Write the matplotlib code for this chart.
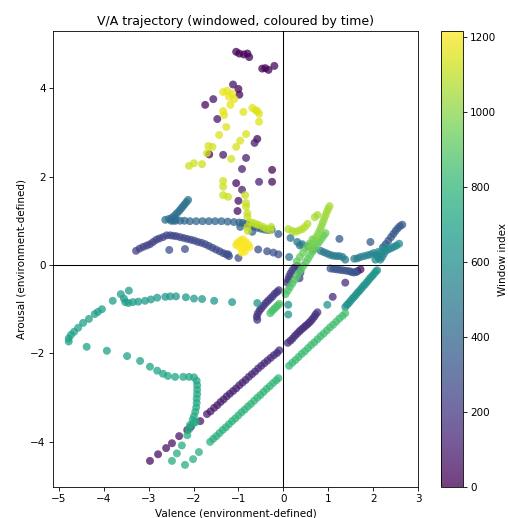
import matplotlib
matplotlib.use("Agg")
import matplotlib.pyplot as plt
import numpy as np

# ---- early windows: scattered high-arousal points + a couple near (1.7, -0.1)
early_v = [-1.05,-0.98,-0.88,-0.80,-0.76,-0.47,-0.40,-0.33,-0.20,-1.00,-1.12,-0.98,-1.74,-1.56,-1.47,-0.58,-0.64,-1.65,-1.34,-0.83,-0.92,-0.25,-1.05,-0.92,-0.54,-0.25,-1.00,-1.02,1.65,1.72]
early_a = [4.82,4.78,4.76,4.78,4.70,4.44,4.45,4.41,4.50,3.98,4.08,3.85,3.62,3.75,3.30,2.85,2.76,2.50,2.49,2.42,2.17,2.15,1.85,1.70,1.88,1.88,1.45,1.22,-0.14,-0.10]
early_t = [0,2,4,6,8,10,12,14,16,18,60,22,24,70,80,26,85,28,90,95,100,30,34,105,110,38,40,42,50,52]

# ---- lower-left purple diagonal
diag1_v = [-2.97,-2.79,-2.61,-2.48,-2.32,-2.14,-2.06,-1.85,-1.70,-1.62,-1.54,-1.47,-1.40,-1.33,-1.26,-1.19,-1.12,-1.05,-0.98,-0.91,-0.84,-0.77,-0.70,-0.63,-0.56,-0.49,-0.42,-0.35,-0.28,-0.21,-0.14,-0.09]
diag1_a = [-4.43,-4.28,-4.14,-4.03,-3.87,-3.73,-3.66,-3.53,-3.37,-3.31,-3.23,-3.17,-3.10,-3.04,-2.97,-2.91,-2.85,-2.79,-2.72,-2.66,-2.60,-2.53,-2.47,-2.41,-2.34,-2.28,-2.22,-2.16,-2.10,-2.04,-1.99,-1.93]
diag1_t = [44,48,54,62,70,78,82,88,94,97,100,103,106,109,112,115,118,121,124,127,130,133,136,139,142,145,148,151,154,157,160,163]

# ---- purple segment right of origin + isolated points
diag2_v = [0.10,0.16,0.21,0.26,0.31,0.36,0.40,0.45,0.49,0.53,0.57,0.61,0.65,0.69,0.72,0.76,1.10,1.38]
diag2_a = [-1.76,-1.71,-1.66,-1.60,-1.55,-1.50,-1.46,-1.42,-1.38,-1.35,-1.31,-1.27,-1.22,-1.17,-1.12,-1.07,-0.72,-0.40]
diag2_t = [150,152,154,156,158,160,162,164,166,168,170,172,174,176,178,180,146,148]

# ---- short purple segment left of origin
diag3_v = [-0.58,-0.59,-0.57,-0.53,-0.49,-0.44,-0.39,-0.34,-0.29,-0.24,-0.19,-0.14,-0.10]
diag3_a = [-1.24,-1.17,-1.10,-1.03,-0.98,-0.92,-0.86,-0.81,-0.76,-0.71,-0.65,-0.61,-0.57]
diag3_t = [182,184,186,188,190,192,194,196,198,200,202,204,206]

# ---- near origin
orig_v = [0.09,0.11,0.13,0.16,0.20,0.25,0.31,0.36,0.38,0.36]
orig_a = [-0.40,-0.33,-0.26,-0.19,-0.12,-0.06,-0.02,-0.08,-0.18,-0.30]
orig_t = [208,210,212,214,216,218,220,222,224,226]

# ---- upper-left arc (low positive arousal)
arc_v = [-3.28,-3.20,-3.12,-3.04,-2.97,-2.90,-2.83,-2.76,-2.68,-2.60,-2.52,-2.45,-2.38,-2.30,-2.22,-2.14,-2.06,-1.98,-1.90,-1.82,-1.74,-1.66,-1.58,-1.50,-1.42,-1.34,-1.27,-1.21,-2.54,-2.19,-1.23,-1.00,-0.56,-0.36,-0.22,-0.11]
arc_a = [0.32,0.37,0.41,0.44,0.47,0.52,0.57,0.60,0.63,0.67,0.67,0.66,0.65,0.63,0.61,0.59,0.57,0.55,0.52,0.50,0.47,0.43,0.39,0.35,0.31,0.27,0.24,0.20,0.34,0.36,0.24,0.16,0.35,0.31,0.28,0.24]
arc_t = [228,230,232,234,236,238,240,242,244,246,248,250,252,254,256,258,260,262,264,266,268,270,272,274,276,278,280,282,284,286,288,290,292,294,296,298]

# ---- right blue pieces
rblue_v = [1.05,1.12,1.19,1.26,1.33,1.40,1.47,1.52,1.57,1.62,2.22,2.28,2.34,2.40,2.45,2.50,2.55,2.60,2.65,1.25,1.94]
rblue_a = [-0.08,-0.09,-0.10,-0.11,-0.12,-0.13,-0.14,-0.16,-0.17,-0.16,0.40,0.47,0.55,0.63,0.70,0.77,0.83,0.88,0.91,0.59,0.52]
rblue_t = [300,302,304,306,308,310,312,314,316,318,325,328,331,334,337,340,343,346,349,335,345]

# ---- horizontal band near arousal 1 and its left hook
band1_v = [-0.11,-0.26,-0.34,-0.42,-0.50,-0.58,-0.66,-0.74,-0.82,-0.90,-0.98,-1.10,-1.24,-1.38,-1.52,-1.66,-1.80,-1.94,-2.08,-2.20,-2.30,-2.40,-2.50,-0.96,-0.69,-2.63,-2.55,-2.48,-2.42,-2.37,-2.32,-2.28,-2.24,-2.20,-2.16,-2.12,-2.45,-2.40]
band1_a = [0.70,0.80,0.79,0.80,0.82,0.84,0.87,0.90,0.93,0.95,0.96,0.97,0.98,0.99,0.99,0.99,0.99,0.99,0.99,1.00,1.00,1.00,1.00,0.86,0.75,1.02,1.04,1.07,1.12,1.17,1.22,1.27,1.32,1.37,1.42,1.47,1.00,1.05]
band1_t = [360,364,366,368,370,372,374,376,378,380,382,385,388,391,394,397,400,403,406,409,412,415,418,381,373,430,433,436,439,442,445,448,451,454,457,460,425,440]

# ---- teal-blue points just right of origin
tb_v = [0.16,0.31,0.42,0.55,0.68,0.83,0.90,0.97,1.04,1.11,1.18,1.25,1.32,1.38,0.13,0.37]
tb_a = [0.61,0.52,0.47,0.42,0.36,0.32,0.29,0.26,0.23,0.21,0.20,0.20,0.18,0.12,0.18,0.44]
tb_t = [470,473,476,479,482,485,488,491,494,497,500,503,506,509,468,475]

# ---- teal cluster far right
rteal_v = [1.58,1.65,1.72,1.80,1.88,1.95,2.02,2.08,2.12,2.16,2.20,2.24,2.28,2.34,2.40,2.46,2.52,2.58,2.05,2.18,2.26,2.12]
rteal_a = [0.14,0.15,0.18,0.20,0.22,0.24,0.27,0.22,0.16,0.12,0.18,0.25,0.32,0.35,0.38,0.41,0.44,0.48,0.12,0.28,0.40,0.30]
rteal_t = [512,516,520,524,528,532,536,540,544,548,552,556,560,564,568,572,576,580,584,588,592,596]

# ---- teal diagonal (right, below zero)
tdiag_v = [1.38,1.42,1.46,1.50,1.54,1.58,1.62,1.66,1.70,1.74,1.78,1.82,1.86,1.90,1.94,1.98,2.02,2.06,2.09,0.98,0.11,0.11]
tdiag_a = [-0.95,-0.90,-0.86,-0.81,-0.76,-0.72,-0.67,-0.62,-0.58,-0.53,-0.48,-0.44,-0.39,-0.34,-0.29,-0.25,-0.20,-0.15,-0.12,-0.90,-1.12,-0.90]
tdiag_t = [600,602,604,606,608,610,612,614,616,618,620,622,624,626,628,630,632,634,636,638,639,637]

# ---- big loop on the left
loop_v = [-0.58,-1.14,-1.54,-1.81,-1.99,-2.17,-2.39,-2.52,-2.63,-2.81,-2.95,-3.08,-3.23,-3.35,-3.45,-3.52,-3.55,-3.44,-3.62,-3.80,-4.04,-4.13,-4.20,-4.33,-4.46,-4.57,-4.66,-4.73,-4.78,-4.78,-4.38,-3.93,-3.48,-3.19,-2.97,-2.81,-2.68,-2.57,-2.41,-2.23,-2.10,-1.99,-1.93,-1.92,-1.92,-1.92,-1.93,-1.93,-1.94,-1.96,-1.99,-2.02,-2.00,-1.95,-2.08,-2.10,-2.14,-2.26,-2.37,-2.48]
loop_a = [-0.86,-0.84,-0.81,-0.77,-0.76,-0.73,-0.71,-0.71,-0.72,-0.74,-0.78,-0.81,-0.83,-0.84,-0.86,-0.84,-0.76,-0.58,-0.66,-0.81,-1.00,-1.06,-1.11,-1.22,-1.31,-1.42,-1.51,-1.58,-1.66,-1.73,-1.85,-1.94,-2.06,-2.17,-2.30,-2.39,-2.46,-2.51,-2.53,-2.53,-2.53,-2.54,-2.62,-2.72,-2.82,-2.92,-3.02,-3.12,-3.22,-3.32,-3.42,-3.50,-3.58,-3.55,-3.62,-3.72,-3.85,-4.08,-4.26,-4.43]
loop_t = [640,642,644,646,648,650,652,654,656,658,660,662,664,666,668,670,672,674,676,678,680,682,684,686,688,690,692,694,696,698,700,702,704,706,708,710,712,714,716,718,720,722,724,726,728,730,732,734,736,738,740,742,744,746,748,750,752,754,756,758]

# ---- green diagonals
gdiag_v = [-2.19,-2.01,-1.88,-1.63,-1.56,-1.49,-1.42,-1.35,-1.28,-1.21,-1.14,-1.07,-1.00,-0.93,-0.86,-0.79,-0.72,-0.65,-0.58,-0.51,-0.44,-0.37,-0.30,-0.23,-0.16,-0.11,0.13,0.20,0.27,0.34,0.41,0.48,0.55,0.62,0.69,0.76,0.83,0.90,0.97,1.04,1.11,1.18,1.25,1.32,1.38]
gdiag_a = [-4.52,-4.39,-4.23,-4.00,-3.93,-3.87,-3.80,-3.73,-3.67,-3.60,-3.53,-3.47,-3.40,-3.33,-3.27,-3.20,-3.14,-3.07,-3.00,-2.94,-2.87,-2.80,-2.74,-2.67,-2.61,-2.56,-2.28,-2.21,-2.15,-2.08,-2.01,-1.95,-1.88,-1.81,-1.75,-1.68,-1.61,-1.55,-1.48,-1.41,-1.35,-1.28,-1.21,-1.15,-1.09]
gdiag_t = [762,765,768,772,774,776,778,780,782,784,786,788,790,792,794,796,798,800,802,804,806,808,810,812,814,816,822,824,826,828,830,832,834,836,838,840,842,844,846,848,850,852,854,856,858]

# ---- light-green pieces near origin
lg_v = [-0.29,-0.25,-0.21,-0.17,-0.13,-0.09,0.05,0.10,0.15,0.20,0.25,0.30,0.35,0.40,0.45,0.50,0.55,0.60,0.65,0.70,0.75,0.80,0.85,0.90,0.94,0.30,0.37,0.44,0.51,0.58,0.65]
lg_a = [-1.09,-1.04,-1.00,-0.96,-0.92,-0.88,-0.66,-0.58,-0.50,-0.42,-0.34,-0.26,-0.18,-0.10,-0.02,0.06,0.14,0.22,0.30,0.38,0.45,0.52,0.59,0.66,0.72,0.08,0.18,0.28,0.38,0.48,0.58]
lg_t = [860,862,864,866,868,870,872,876,880,884,888,892,896,900,904,908,912,916,920,924,928,932,936,940,944,930,934,938,942,946,950]

# ---- yellow-green band rising to arousal 1.35
yg_v = [0.62,0.66,0.70,0.74,0.78,0.82,0.85,0.88,0.91,0.94,0.97,1.00,1.03,0.76,0.70,0.11,0.20,0.27,0.35,0.42,0.48,0.54]
yg_a = [0.40,0.48,0.56,0.64,0.72,0.80,0.88,0.96,1.04,1.12,1.20,1.27,1.33,1.13,1.08,0.81,0.77,0.75,0.78,0.81,0.86,0.93]
yg_t = [960,968,976,984,992,1000,1008,1016,1024,1032,1040,1048,1056,1050,1052,1070,1072,1074,1076,1078,1080,1082]

# ---- late windows: upper-left yellow scatter
late_v = [-0.74,-0.67,-0.60,-0.54,-0.45,-0.38,-0.29,-0.27,-0.80,-0.79,-0.80,-0.80,-0.83,-0.83,-0.85,-1.23,-1.34,-1.34,-1.34,-2.10,-1.99,-1.81,-1.16,-1.70,-1.58,-1.67,-1.05,-0.96,-0.83,-1.43,-1.27,-0.54,-0.54,-0.58,-0.62,-0.69,-0.89,-1.32,-1.34,-1.18,-1.09,-1.14,-1.25,-1.34,-1.21]
late_a = [0.97,0.95,0.92,0.90,0.86,0.82,0.79,0.86,0.86,0.77,1.09,1.17,1.32,1.40,1.58,1.54,1.58,1.77,1.90,2.24,2.30,2.28,2.40,2.53,2.67,2.69,2.67,2.81,2.96,2.94,3.12,3.24,3.42,3.48,3.50,3.55,3.46,3.39,3.48,3.62,3.75,3.87,3.94,3.91,3.80]
late_t = [1100,1098,1096,1094,1092,1090,1088,1086,1102,1104,1106,1108,1110,1112,1114,1116,1118,1120,1122,1124,1126,1128,1130,1132,1134,1136,1138,1140,1142,1144,1146,1148,1150,1152,1154,1156,1158,1160,1162,1164,1166,1168,1170,1172,1174]

# ---- final yellow cluster
final_v = [-1.02,-0.96,-0.90,-0.84,-0.78,-0.85,-0.92,-0.98,-0.90,-0.86,-0.93,-1.05,-0.75]
final_a = [0.50,0.55,0.58,0.52,0.46,0.40,0.36,0.42,0.46,0.30,0.28,0.45,0.40]
final_t = [1195,1197,1199,1201,1203,1205,1207,1209,1211,1213,1215,1196,1200]

segments = [
    (early_v, early_a, early_t), (diag1_v, diag1_a, diag1_t), (diag2_v, diag2_a, diag2_t),
    (diag3_v, diag3_a, diag3_t), (orig_v, orig_a, orig_t), (arc_v, arc_a, arc_t),
    (rblue_v, rblue_a, rblue_t), (band1_v, band1_a, band1_t), (tb_v, tb_a, tb_t),
    (rteal_v, rteal_a, rteal_t), (tdiag_v, tdiag_a, tdiag_t), (loop_v, loop_a, loop_t),
    (gdiag_v, gdiag_a, gdiag_t), (lg_v, lg_a, lg_t), (yg_v, yg_a, yg_t),
    (late_v, late_a, late_t), (final_v, final_a, final_t),
]
valence = np.concatenate([np.asarray(s[0], float) for s in segments])
arousal = np.concatenate([np.asarray(s[1], float) for s in segments])
window_index = np.concatenate([np.asarray(s[2], float) for s in segments])
order = np.argsort(window_index, kind="stable")
valence, arousal, window_index = valence[order], arousal[order], window_index[order]

DPI = 75
W, H = 508, 518
fig = plt.figure(figsize=(W / DPI, H / DPI), dpi=DPI)
ax = fig.add_axes([53 / W, (H - 487) / H, (418 - 53) / W, (487 - 31) / H])
cax = fig.add_axes([441 / W, (H - 487) / H, 22 / W, (487 - 31) / H])

sc = ax.scatter(valence, arousal, c=window_index, cmap="viridis", vmin=0, vmax=1215,
                s=58, alpha=0.75, linewidths=0)
ax.axhline(0, color="black", lw=1)
ax.axvline(0, color="black", lw=1)
ax.set_xlim(-5.13, 3.0)
ax.set_ylim(-5.02, 5.29)
ax.set_xticks([-5, -4, -3, -2, -1, 0, 1, 2, 3])
ax.set_yticks([-4, -2, 0, 2, 4])
ax.set_title("V/A trajectory (windowed, coloured by time)")
ax.set_xlabel("Valence (environment-defined)")
ax.set_ylabel("Arousal (environment-defined)")

cb = fig.colorbar(sc, cax=cax)
cb.set_ticks([0, 200, 400, 600, 800, 1000, 1200])
cb.set_label("Window index", labelpad=1)

fig.savefig("out.png", dpi=DPI)
